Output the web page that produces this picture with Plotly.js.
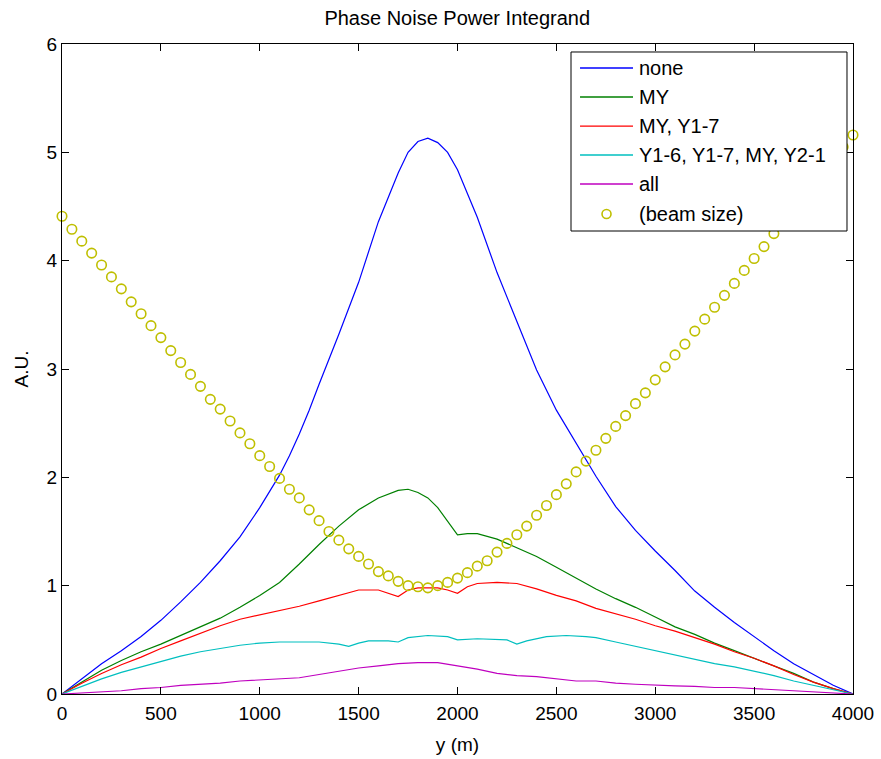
<!DOCTYPE html>
<html>
<head>
<meta charset="utf-8">
<script src="https://cdn.plot.ly/plotly-3.0.1.min.js"></script>
<style>
html,body{margin:0;padding:0;background:#fff;}
#chart{width:881px;height:759px;}
</style>
</head>
<body>
<div id="chart"></div>
<script>
// ---- data ----
const noneX = [0,100,200,300,400,500,600,700,800,900,1000,1100,1150,1200,1250,1300,1400,1500,1600,1700,1750,1800,1850,1900,1950,2000,2050,2100,2200,2300,2400,2500,2600,2700,2800,2900,3000,3100,3200,3300,3400,3500,3600,3700,3800,3900,4000];
const noneY = [0,0.14,0.28,0.40,0.53,0.68,0.85,1.03,1.23,1.45,1.72,2.02,2.20,2.40,2.62,2.86,3.32,3.80,4.36,4.81,5.00,5.10,5.13,5.09,5.00,4.84,4.62,4.40,3.89,3.44,2.99,2.62,2.32,2.01,1.73,1.51,1.32,1.14,0.95,0.80,0.66,0.53,0.40,0.28,0.18,0.08,0];

const myX = [0,100,200,300,400,500,600,700,800,900,1000,1100,1200,1300,1400,1500,1600,1700,1750,1800,1850,1900,1950,2000,2050,2100,2200,2300,2400,2500,2600,2700,2800,2900,3000,3100,3200,3300,3400,3500,3600,3700,3800,3900,4000];
const myY = [0,0.11,0.22,0.31,0.39,0.46,0.54,0.62,0.70,0.80,0.91,1.03,1.20,1.38,1.55,1.70,1.81,1.88,1.89,1.86,1.81,1.72,1.60,1.47,1.48,1.48,1.43,1.35,1.27,1.17,1.07,0.97,0.88,0.80,0.71,0.62,0.55,0.47,0.40,0.33,0.26,0.19,0.11,0.05,0];

const myY17X = [0,100,200,300,400,500,600,700,800,900,1000,1100,1200,1300,1400,1500,1600,1650,1700,1750,1800,1900,1950,2000,2050,2100,2200,2300,2400,2500,2600,2700,2800,2900,3000,3100,3200,3300,3400,3500,3600,3700,3800,3900,4000];
const myY17Y = [0,0.10,0.19,0.27,0.34,0.42,0.49,0.56,0.63,0.69,0.73,0.77,0.81,0.86,0.91,0.96,0.96,0.93,0.90,0.96,0.98,0.98,0.96,0.93,0.99,1.02,1.03,1.02,0.97,0.91,0.86,0.79,0.74,0.69,0.63,0.58,0.52,0.46,0.39,0.33,0.26,0.18,0.11,0.05,0];

const fourX = [0,100,200,300,400,500,600,700,800,900,1000,1100,1200,1300,1400,1450,1500,1550,1650,1700,1750,1850,1950,2000,2100,2250,2300,2350,2450,2550,2650,2700,2800,2900,3000,3100,3200,3300,3400,3500,3600,3700,3800,3900,4000];
const fourY = [0,0.07,0.14,0.20,0.25,0.30,0.35,0.39,0.42,0.45,0.47,0.48,0.48,0.48,0.46,0.44,0.47,0.49,0.49,0.48,0.52,0.54,0.53,0.50,0.51,0.50,0.46,0.49,0.53,0.54,0.53,0.52,0.48,0.44,0.40,0.36,0.32,0.28,0.25,0.21,0.17,0.12,0.08,0.04,0];

const allX = [0,100,200,300,400,500,600,700,800,900,1000,1100,1200,1300,1400,1500,1600,1700,1800,1900,2000,2100,2200,2300,2400,2500,2600,2700,2800,2900,3000,3100,3200,3300,3400,3500,3600,3700,3800,3900,4000];
const allY = [0,0.01,0.02,0.03,0.05,0.06,0.08,0.09,0.10,0.12,0.13,0.14,0.15,0.18,0.21,0.24,0.26,0.28,0.29,0.29,0.26,0.23,0.19,0.17,0.16,0.14,0.12,0.12,0.10,0.09,0.08,0.075,0.07,0.06,0.06,0.05,0.04,0.03,0.02,0.01,0];

const beamX = [0,50,100,150,200,250,300,350,400,450,500,550,600,650,700,750,800,850,900,950,1000,1050,1100,1150,1200,1250,1300,1350,1400,1450,1500,1550,1600,1650,1700,1750,1800,1850,1900,1950,2000,2050,2100,2150,2200,2250,2300,2350,2400,2450,2500,2550,2600,2650,2700,2750,2800,2850,2900,2950,3000,3050,3100,3150,3200,3250,3300,3350,3400,3450,3500,3550,3600,3650,3700,3750,3800,3850,3900,3950,4000];
const beamY = [4.41,4.29,4.18,4.07,3.96,3.85,3.74,3.62,3.51,3.40,3.29,3.17,3.06,2.95,2.84,2.72,2.63,2.52,2.41,2.31,2.20,2.10,1.99,1.89,1.81,1.70,1.60,1.50,1.42,1.34,1.27,1.20,1.13,1.09,1.04,1.00,0.99,0.98,1.00,1.03,1.07,1.12,1.18,1.23,1.31,1.39,1.47,1.55,1.65,1.74,1.84,1.94,2.05,2.15,2.25,2.36,2.47,2.57,2.68,2.78,2.90,3.02,3.13,3.23,3.35,3.46,3.57,3.68,3.79,3.91,4.02,4.13,4.25,4.36,4.47,4.59,4.70,4.82,4.93,5.05,5.16];

const seriesNames = ['none','MY','MY, Y1-7','Y1-6, Y1-7, MY, Y2-1','all','(beam size)'];
const xTicks = [0,500,1000,1500,2000,2500,3000,3500,4000];
const yTicks = [0,1,2,3,4,5,6];

// ---- styles ----
const colors = ['#0000FF','#008000','#FF0000','#00BFBF','#BF00BF','#BFBF00'];
const FONT = 'Liberation Sans, Arial, Helvetica, sans-serif';

function line(i, x, y){
  return {type:'scatter', mode:'lines', name:seriesNames[i], x:x, y:y,
          line:{color:colors[i], width:1.2}, hoverinfo:'skip', showlegend:false};
}
const traces = [
  line(0, noneX, noneY),
  line(1, myX, myY),
  line(2, myY17X, myY17Y),
  line(3, fourX, fourY),
  line(4, allX, allY),
  {type:'scatter', mode:'markers', name:seriesNames[5], x:beamX, y:beamY, showlegend:false,
   cliponaxis:false,
   marker:{symbol:'circle-open', size:9.5, color:colors[5], line:{width:1.6, color:colors[5]}}, hoverinfo:'skip'}
];

// Legend drawn as a boxed key (paper coordinates)
const L = {x0:0.6435, x1:0.9924, y0:0.7123, y1:0.9877};
const rowY = [0.9631,0.9185,0.8738,0.8292,0.7846,0.7385];
const shapes = [{type:'rect', xref:'paper', yref:'paper', x0:L.x0, x1:L.x1, y0:L.y0, y1:L.y1,
                 fillcolor:'#fff', line:{color:'#000', width:1}, layer:'above'}];
const annotations = [];
for (let i=0;i<6;i++){
  if (i<5){
    shapes.push({type:'line', xref:'paper', yref:'paper', x0:0.6549, x1:0.7219, y0:rowY[i], y1:rowY[i],
                 line:{color:colors[i], width:1.3}, layer:'above'});
  } else {
    shapes.push({type:'circle', xref:'paper', yref:'paper', xsizemode:'pixel', ysizemode:'pixel',
                 xanchor:0.6884, yanchor:rowY[i], x0:-4.5, x1:4.5, y0:-4.5, y1:4.5,
                 line:{color:colors[i], width:1.6}, layer:'above'});
  }
  annotations.push({xref:'paper', yref:'paper', x:0.7269, y:rowY[i], xanchor:'left', yanchor:'middle',
                    text:seriesNames[i], showarrow:false, font:{family:FONT, size:20, color:'#000'}});
}

const axisCommon = {
  showgrid:false, zeroline:false, showline:true, linecolor:'#000', linewidth:1,
  mirror:'ticks', ticks:'inside', ticklen:7, tickwidth:1, tickcolor:'#000',
  tickfont:{family:FONT, size:19, color:'#000'}
};

const layout = {
  width:881, height:759,
  margin:{l:62, r:28, t:44, b:65},
  paper_bgcolor:'#fff', plot_bgcolor:'#fff',
  font:{family:FONT, color:'#000'},
  title:{text:'Phase Noise Power Integrand', x:0.519, xanchor:'center', y:0.976, yanchor:'middle',
         font:{family:FONT, size:20, color:'#000'}},
  xaxis:Object.assign({}, axisCommon, {range:[0,4000], tickvals:xTicks, ticktext:xTicks.map(String),
         ticklabelstandoff:2,
         title:{text:'y (m)', standoff:14, font:{family:FONT, size:19, color:'#000'}}}),
  yaxis:Object.assign({}, axisCommon, {range:[0,6], tickvals:yTicks, ticktext:yTicks.map(String),
         title:{text:'A.U.', standoff:12, font:{family:FONT, size:19, color:'#000'}}}),
  showlegend:false,
  shapes:shapes,
  annotations:annotations
};

Plotly.newPlot('chart', traces, layout, {staticPlot:true, displayModeBar:false});
</script>
</body>
</html>
